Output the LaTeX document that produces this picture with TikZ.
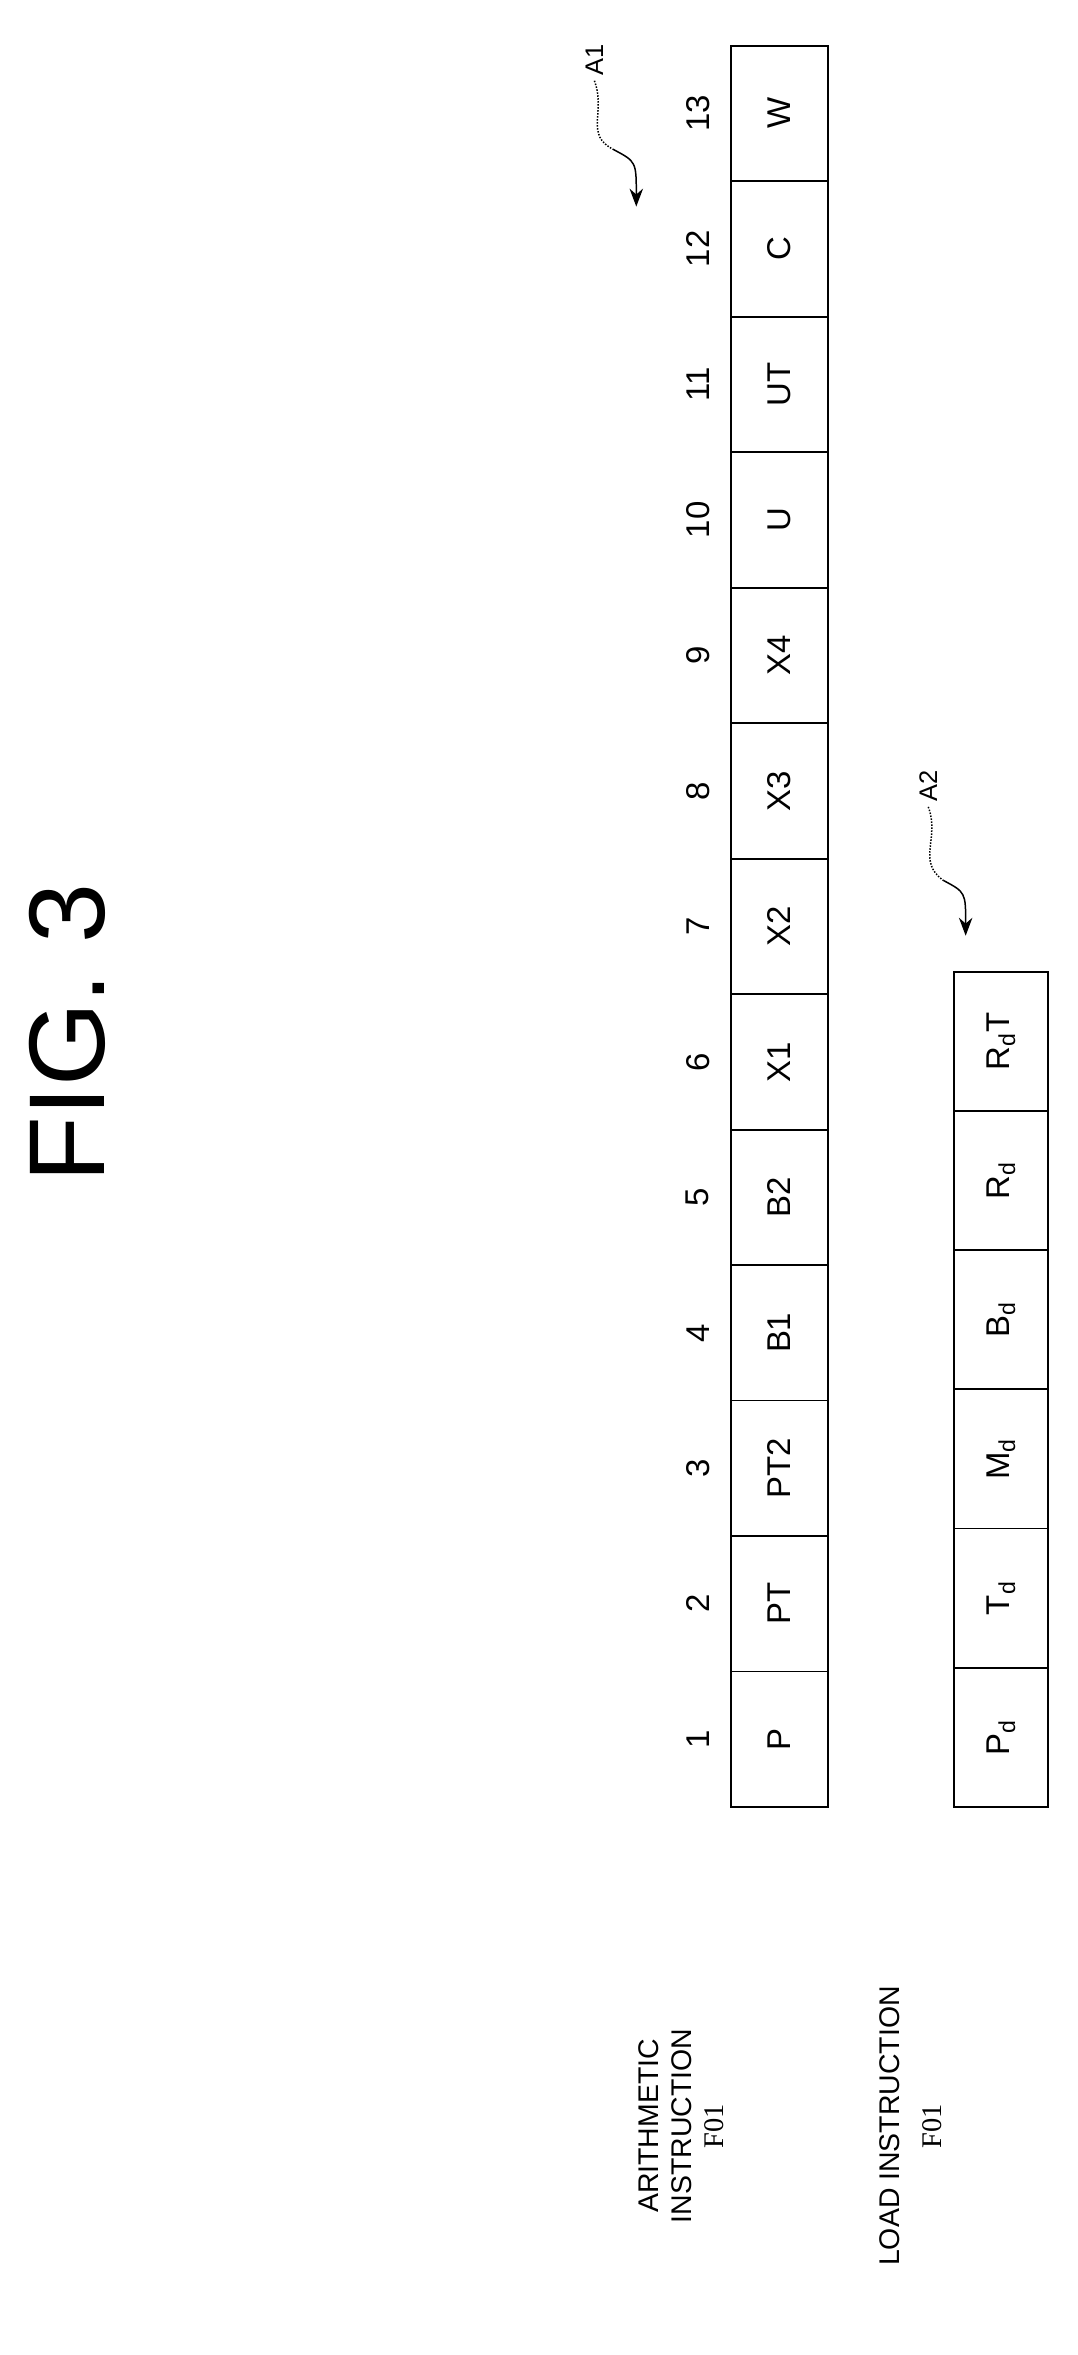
\documentclass[tikz,border=0pt]{standalone}
\usepackage{fontspec}
\setmainfont{Liberation Sans}
\newfontfamily\serifnum{Liberation Serif}
\usetikzlibrary{positioning,arrows.meta}
\begin{document}
\begin{tikzpicture}[x=1pt,y=-1pt]
	\tikzstyle{cell}=[draw,line width=1.2pt,rotate=90,minimum height=65pt,inner sep=0pt,font=\fontsize{22}{22}\selectfont]
	\tikzstyle{num}=[rotate=90,font=\fontsize{22}{22}\selectfont]
	\tikzstyle{lbl}=[rotate=90,align=center,font=\fontsize{19}{22}\selectfont]
	\useasboundingbox (0,0) rectangle (720,1573);
	\node[rotate=90,font=\fontsize{72}{72}\selectfont] (title) at (45,690) {FIG.\ 3};
	% arithmetic instruction
	\foreach \t [count=\i] in {P,PT,PT2,B1,B2,X1,X2,X3,X4,U,UT,C,W} {
		\node[cell,minimum width=90.5pt] (a\i) at (520.5,{1207-(\i-0.5)*90.5}) {\t};
		\node[num] (n\i) at (466,{1207-(\i-0.5)*90.5}) {\i};
	}
	% load instruction
	\foreach \t [count=\i] in {P$_\mathrm{d}$,T$_\mathrm{d}$,M$_\mathrm{d}$,B$_\mathrm{d}$,R$_\mathrm{d}$,R$_\mathrm{d}$T} {
		\node[cell,minimum height=63pt,minimum width=93pt] (b\i) at (668.5,{1207-(\i-0.5)*93}) {\t};
	}
	\node[lbl] (arith) at (455,1420) {ARITHMETIC\\INSTRUCTION\\{\serifnum F01}};
	\node[lbl] (load) at (608,1420) {LOAD INSTRUCTION\\[6pt]{\serifnum F01}};
	% reference signs
	\node[rotate=90,font=\fontsize{17}{17}\selectfont] (A1) at (397,40) {A1};
	\coordinate (A1e) at (425,138);
	\draw[densely dotted,line width=1pt] (A1.west) .. controls (405,75) and (390,90) .. (410,100);
	\draw[line width=1pt,-{Stealth[length=12pt]}] (410,100) .. controls (425,108) .. (A1e);
	\node[rotate=90,font=\fontsize{17}{17}\selectfont] (A2) at (620,525) {A2};
	\coordinate (A2e) at (645,625);
	\draw[densely dotted,line width=1pt] (A2.west) .. controls (628,560) and (612,575) .. (630,588);
	\draw[line width=1pt,-{Stealth[length=12pt]}] (630,588) .. controls (645,596) .. (A2e);
\end{tikzpicture}
\end{document}
